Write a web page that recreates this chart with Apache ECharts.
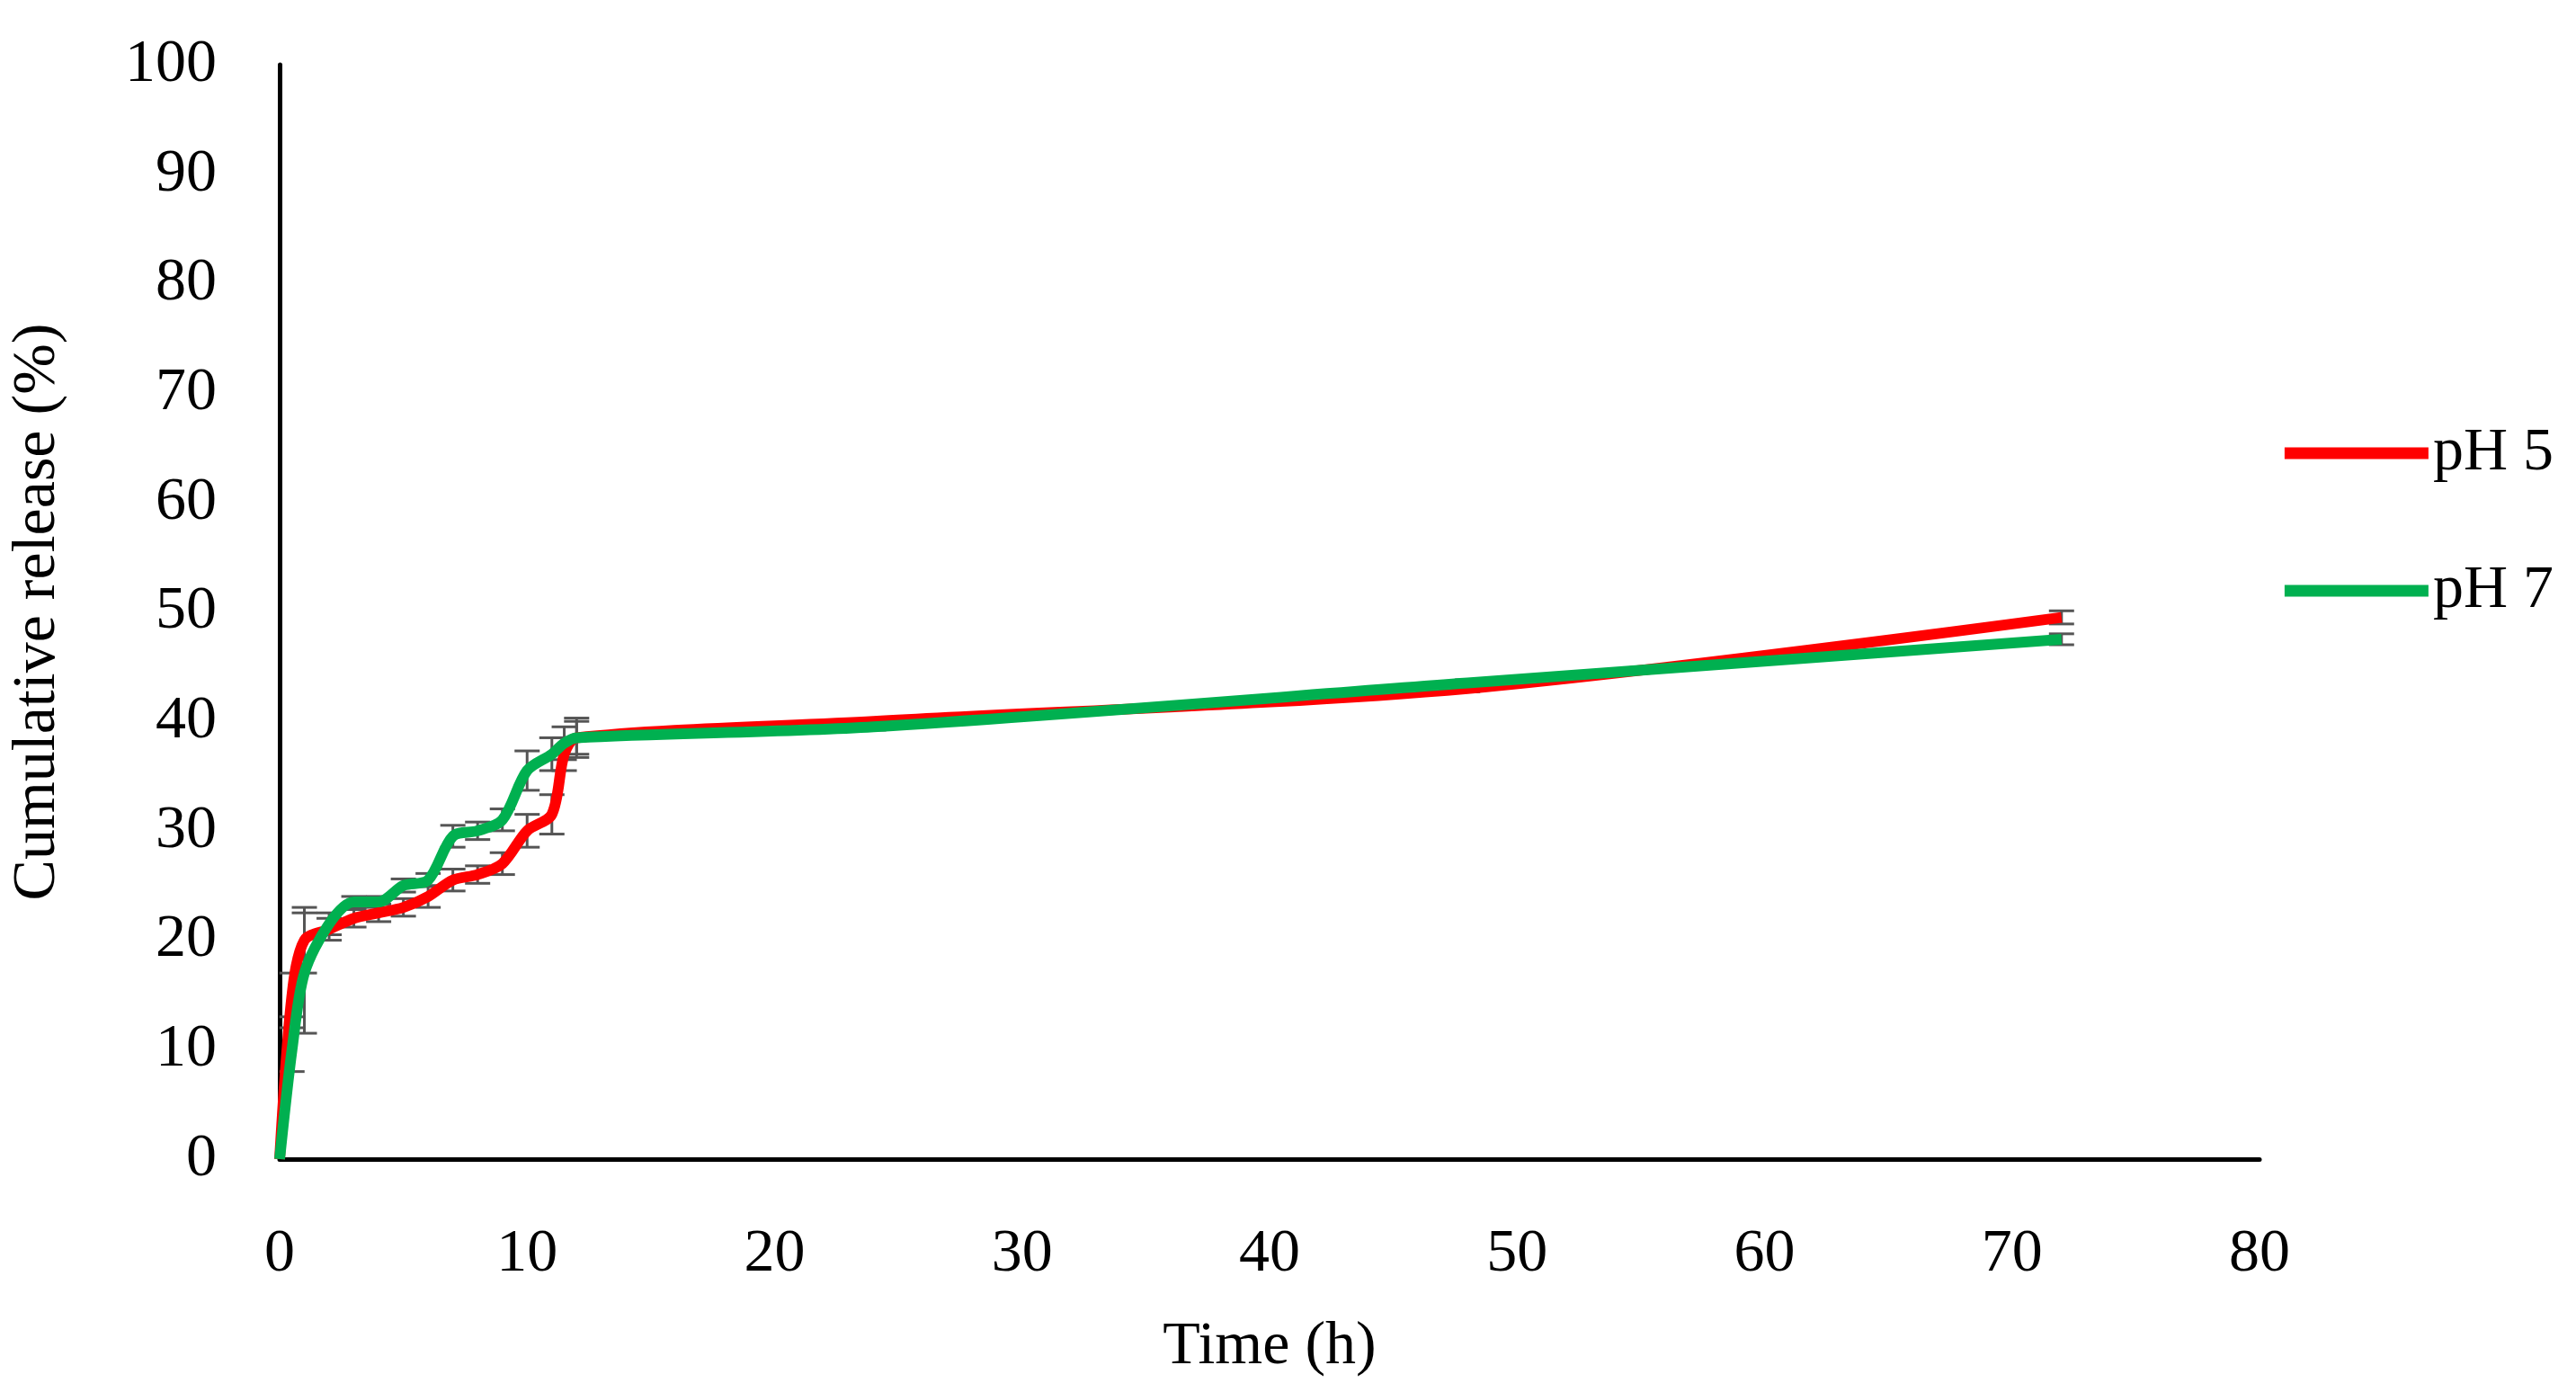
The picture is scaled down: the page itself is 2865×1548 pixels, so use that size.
<!DOCTYPE html>
<html><head><meta charset="utf-8">
<script src="https://cdn.jsdelivr.net/npm/echarts@6/dist/echarts.min.js"></script>
<style>html,body{margin:0;padding:0;background:#fff}#c{width:2865px;height:1548px}</style>
</head><body><div id="c"></div>
<script>
const time = [0, 0.5, 1, 2, 3, 4, 5, 6, 7, 8, 9, 10, 11, 11.5, 12, 24, 48, 72];
const ph5 = [0, 15, 20, 21, 22, 22.5, 23, 24, 25.5, 26, 27, 30, 31.5, 37, 38.5, 40, 43, 49.5];
const ph5Err = [0, 2, 3, 1, 0.8, 0.8, 0.8, 1, 1, 0.8, 1, 1.5, 1.8, 1.5, 1.5, 0.3, 0.3, 0.6];
const ph7 = [0, 10, 17, 21.5, 23.5, 23.5, 25, 25.5, 29.5, 30, 31, 35.5, 37, 38, 38.5, 39.5, 43.5, 47.5];
const ph7Err = [0, 2, 5.5, 1, 0.5, 0.5, 0.6, 0.6, 1, 0.8, 1, 1.8, 1.5, 1.5, 1.8, 0.3, 0.3, 0.5];
const xTicks = [0, 80, 10];
const yTicks = [0, 100, 10];

const font = 'Liberation Serif';
function pairs(v){ return time.map((t,i)=>[t,v[i]]); }
function errData(v,e){ return time.map((t,i)=>[t,v[i]-e[i],v[i]+e[i]]); }
function errSeries(v,e){
  return {type:'custom', silent:true, z:1, data:errData(v,e),
    renderItem:(p,api)=>{
      if (api.value(2)-api.value(1) < 0.01) return;
      const lo=api.coord([api.value(0),api.value(1)]);
      const hi=api.coord([api.value(0),api.value(2)]);
      const w=14, s={stroke:'#555', lineWidth:3};
      return {type:'group',children:[
        {type:'line',shape:{x1:lo[0],y1:lo[1],x2:hi[0],y2:hi[1]},style:s},
        {type:'line',shape:{x1:lo[0]-w,y1:lo[1],x2:lo[0]+w,y2:lo[1]},style:s},
        {type:'line',shape:{x1:hi[0]-w,y1:hi[1],x2:hi[0]+w,y2:hi[1]},style:s}]};
    }};
}
const chart = echarts.init(document.getElementById('c'));
chart.setOption({
  animation:false,
  grid:{left:310, right:352, top:72, bottom:259},
  legend:{orient:'vertical', right:20, top:465, itemGap:85, itemWidth:160, itemHeight:13,
    icon:'rect', textStyle:{fontFamily:font, fontSize:68, color:'#000'},
    data:['pH 5','pH 7']},
  xAxis:{type:'value', min:xTicks[0], max:xTicks[1], interval:xTicks[2],
    name:'Time (h)', nameLocation:'middle', nameGap:175,
    nameTextStyle:{fontFamily:font, fontSize:68, color:'#000'},
    axisLine:{lineStyle:{color:'#000', width:5}}, axisTick:{show:false},
    axisLabel:{fontFamily:font, fontSize:68, color:'#000', margin:72},
    splitLine:{show:false}},
  yAxis:{type:'value', min:yTicks[0], max:yTicks[1], interval:yTicks[2],
    name:'Cumulative release (%)', nameLocation:'middle', nameGap:235,
    nameTextStyle:{fontFamily:font, fontSize:68, color:'#000'},
    axisLine:{show:true, lineStyle:{color:'#000', width:5}}, axisTick:{show:false},
    axisLabel:{fontFamily:font, fontSize:68, color:'#000', margin:70},
    splitLine:{show:false}},
  series:[
    errSeries(ph5,ph5Err), errSeries(ph7,ph7Err),
    {name:'pH 5', type:'line', smooth:0.3, showSymbol:false, data:pairs(ph5), z:3,
      lineStyle:{color:'#ff0000', width:12}, itemStyle:{color:'#ff0000'}},
    {name:'pH 7', type:'line', smooth:0.3, showSymbol:false, data:pairs(ph7), z:4,
      lineStyle:{color:'#00b050', width:12}, itemStyle:{color:'#00b050'}}
  ]
});
</script></body></html>
